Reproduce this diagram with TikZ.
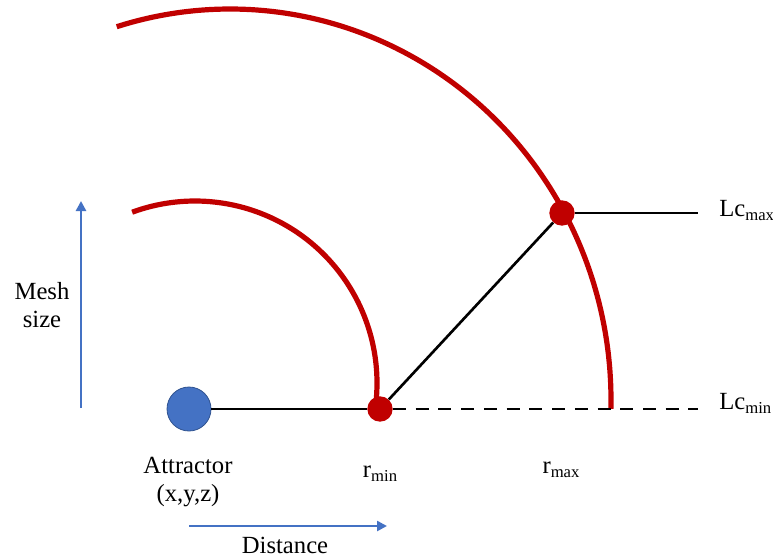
\documentclass[tikz,border=0pt]{standalone}
\usepackage{fontspec}
\setmainfont{Liberation Serif}
\usetikzlibrary{arrows.meta}
\definecolor{pptred}{HTML}{C00000}
\definecolor{pptblue}{HTML}{4472C4}
\definecolor{pptblueedge}{HTML}{2F528F}
\newcommand{\subtxt}[1]{\raisebox{-3.5pt}{\fontsize{12.5}{14}\selectfont #1}}
\begin{document}
\begin{tikzpicture}[x=0.75pt,y=-0.75pt,
  redarc/.style={draw=pptred,line width=3.9pt},
  blackline/.style={draw=black,line width=2pt},
  dashline/.style={blackline,dash pattern=on 9.75pt off 7.3pt},
  reddot/.style={circle,fill=pptred,inner sep=0pt,minimum size=19pt},
  attractor/.style={circle,fill=pptblue,draw=pptblueedge,line width=0.6pt,inner sep=0pt,minimum size=33pt},
  lbl/.style={font=\fontsize{18.5}{22}\selectfont,inner sep=0pt},
  axisarrow/.style={draw=pptblue,line width=2.2pt,-{Triangle[length=7.5pt,width=7.5pt]}}]
\useasboundingbox (0,0) rectangle (773,557);
% arcs
\draw[redarc] plot[domain=-110.2:7.5,samples=120] ({195+182*cos(\x)},{383+182*sin(\x)});
\draw[redarc] plot[domain=-107.3:1.3,samples=160] ({230+381*cos(\x)},{400+391*sin(\x)});
% nodes
\node[attractor] (att) at (189,409) {};
\node[reddot] (rmin) at (380,409) {};
\node[reddot] (rmaxdot) at (562,213) {};
\coordinate (lcmaxend) at (698,213);
\coordinate (lcminend) at (698,409);
% connectors
\draw[blackline] (att) -- (rmin);
\draw[blackline] (rmin) -- (rmaxdot);
\draw[blackline] (rmaxdot) -- (lcmaxend);
\draw[dashline] (rmin) -- (lcminend);
% axes
\coordinate (ybot) at (81,408);
\coordinate (ytop) at (81,201);
\coordinate (xleft) at (189,526);
\coordinate (xright) at (387,526);
\draw[axisarrow] (ybot) -- (ytop);
\draw[axisarrow] (xleft) -- (xright);
% labels
\node[lbl,anchor=base west] (lcmax) at (719,216) {Lc\subtxt{max}};
\node[lbl,anchor=base west] (lcmin) at (719,409) {Lc\subtxt{min}};
\node[lbl,anchor=base] (rminlbl) at (380,477) {r\subtxt{min}};
\node[lbl,anchor=base] (rmaxlbl) at (561,473) {r\subtxt{max}};
\node[lbl,anchor=base] (attlbl1) at (188,473) {Attractor};
\node[lbl,anchor=base] (attlbl2) at (188,501) {(x,y,z)};
\node[lbl,anchor=base] (mesh1) at (42,299) {Mesh};
\node[lbl,anchor=base] (mesh2) at (42,327) {size};
\node[lbl,anchor=base] (dist) at (285,553) {Distance};
\end{tikzpicture}
\end{document}
